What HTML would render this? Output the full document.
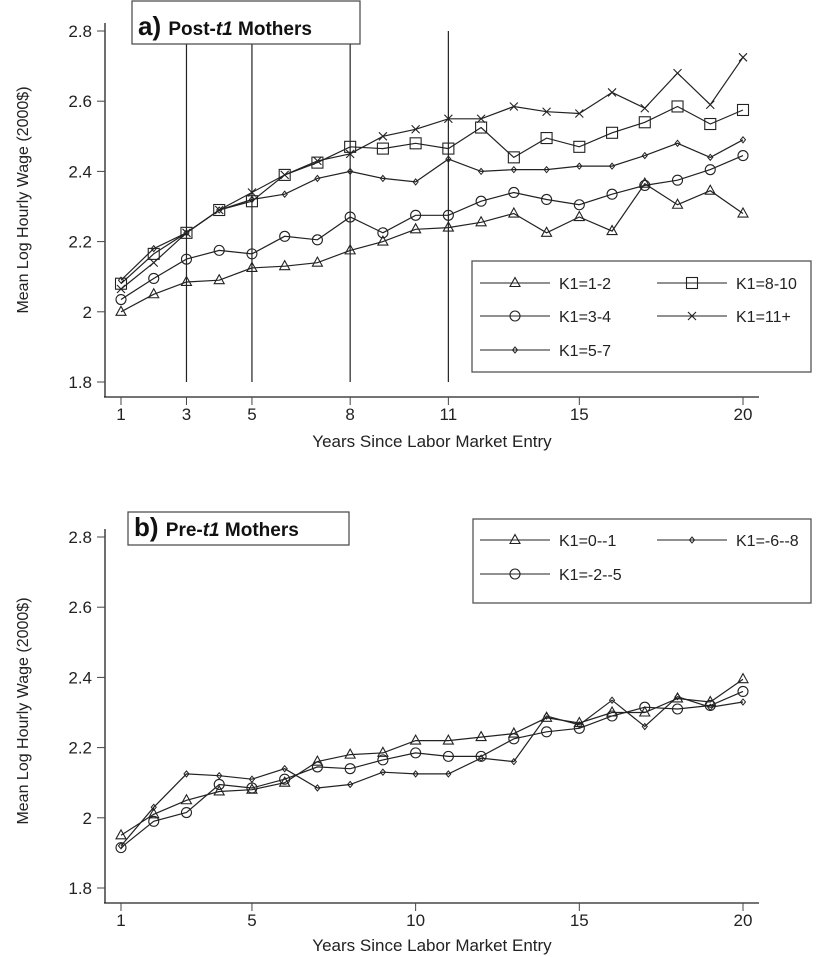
<!DOCTYPE html>
<html><head><meta charset="utf-8"><style>
body{margin:0;background:#fff;}
svg{display:block;font-family:"Liberation Sans",Arial,sans-serif;}
</style></head><body>
<svg id="chart" width="819" height="957" viewBox="0 0 819 957" xmlns="http://www.w3.org/2000/svg"></svg>
<script>
const years = [1,2,3,4,5,6,7,8,9,10,11,12,13,14,15,16,17,18,19,20];
const xTicksA = [1,3,5,8,11,15,20];
const xTicksB = [1,5,10,15,20];
const yTicks = [1.8,2,2.2,2.4,2.6,2.8];
const vLinesA = [3,5,8,11];
const aK12 = [2.00,2.05,2.085,2.09,2.125,2.13,2.14,2.175,2.20,2.235,2.24,2.255,2.28,2.225,2.27,2.23,2.365,2.305,2.345,2.28];
const aK34 = [2.035,2.095,2.15,2.175,2.165,2.215,2.205,2.27,2.225,2.275,2.275,2.315,2.34,2.32,2.305,2.335,2.36,2.375,2.405,2.445];
const aK57 = [2.09,2.18,2.225,2.29,2.32,2.335,2.38,2.40,2.38,2.37,2.435,2.40,2.405,2.405,2.415,2.415,2.445,2.48,2.44,2.49];
const aK810 = [2.08,2.165,2.225,2.29,2.315,2.39,2.425,2.47,2.465,2.48,2.465,2.525,2.44,2.495,2.47,2.51,2.54,2.585,2.535,2.575];
const aK11 = [2.065,2.14,2.225,2.29,2.34,2.39,2.43,2.45,2.50,2.52,2.55,2.55,2.585,2.57,2.565,2.625,2.58,2.68,2.59,2.725];
const bK01 = [1.95,2.01,2.05,2.075,2.08,2.10,2.16,2.18,2.185,2.22,2.22,2.23,2.24,2.285,2.27,2.30,2.30,2.34,2.33,2.395];
const bK25 = [1.915,1.99,2.015,2.095,2.085,2.11,2.145,2.14,2.165,2.185,2.175,2.175,2.225,2.245,2.255,2.29,2.315,2.31,2.32,2.36];
const bK68 = [1.92,2.03,2.125,2.12,2.11,2.14,2.085,2.095,2.13,2.125,2.125,2.17,2.16,2.29,2.265,2.335,2.26,2.345,2.315,2.33];

const NS="http://www.w3.org/2000/svg";
const svg=document.getElementById('chart');
function mk(tag,attrs,parent){const e=document.createElementNS(NS,tag);for(const k in attrs)e.setAttribute(k,attrs[k]);(parent||svg).appendChild(e);return e;}
const xS=v=>121+(v-1)*(743-121)/19;
function yFn(top){return v=>top+(2.8-v)*351/1.0;}

function marker(type,cx,cy,g){
  let e;
  if(type==='tri'){e=mk('path',{d:`M${cx} ${cy-5.5}L${cx+5} ${cy+3.5}L${cx-5} ${cy+3.5}Z`,fill:'none',stroke:'#222','stroke-width':1.1},g);}
  else if(type==='cir'){e=mk('ellipse',{cx:cx,cy:cy,rx:5,ry:5,fill:'none',stroke:'#222','stroke-width':1.1},g);}
  else if(type==='dia'){e=mk('path',{d:`M${cx} ${cy-3}L${cx+2.5} ${cy}L${cx} ${cy+3}L${cx-2.5} ${cy}Z`,fill:'none',stroke:'#222','stroke-width':1},g);}
  else if(type==='sq'){e=mk('rect',{x:cx-5.5,y:cy-5.5,width:11,height:11,fill:'none',stroke:'#222','stroke-width':1.1},g);}
  else {e=mk('path',{d:`M${cx-4} ${cy-4}L${cx+4} ${cy+4}M${cx-4} ${cy+4}L${cx+4} ${cy-4}`,stroke:'#222','stroke-width':1.1},g);}
  
  
}

function series(vals,type,yS,name){
  const g=mk('g',{});
  
  
  const pts=vals.map((v,i)=>xS(years[i]).toFixed(1)+','+yS(v).toFixed(1)).join(' ');
  const l=mk('polyline',{points:pts,fill:'none',stroke:'#222','stroke-width':1.2},g);
  
  
  vals.forEach((v,i)=>marker(type,xS(years[i]),yS(v),g));
}

function axes(yS,bottom,xt,yTitleY,xTitleY,label){
  const g=mk('g',{});
  
  
  mk('line',{x1:105,y1:yS(2.8)-8,x2:105,y2:bottom,stroke:'#222','stroke-width':1.3},g);
  mk('line',{x1:104,y1:bottom,x2:759,y2:bottom,stroke:'#222','stroke-width':1.3},g);
  yTicks.forEach(t=>{
    mk('line',{x1:97,y1:yS(t),x2:105,y2:yS(t),stroke:'#444','stroke-width':1},g);
    const tx=mk('text',{x:92,y:yS(t)+6,'text-anchor':'end','font-size':17,fill:'#222'},g);
    tx.textContent=(t===2?'2':t.toFixed(1));
    
    
  });
  xt.forEach(t=>{
    mk('line',{x1:xS(t),y1:bottom,x2:xS(t),y2:bottom+8,stroke:'#444','stroke-width':1},g);
    const tx=mk('text',{x:xS(t),y:bottom+23,'text-anchor':'middle','font-size':17,fill:'#222'},g);
    tx.textContent=t;
    
    
  });
  const yt=mk('text',{x:0,y:0,transform:`translate(28,${yTitleY}) rotate(-90)`,'text-anchor':'middle','font-size':16,fill:'#222'},g);
  yt.textContent='Mean Log Hourly Wage (2000$)';
  
  
  const xtt=mk('text',{x:432,y:xTitleY,'text-anchor':'middle','font-size':17,fill:'#222'},g);
  xtt.textContent='Years Since Labor Market Entry';
  
  
}

function legend(x,y,w,h,items){
  const g=mk('g',{});
  
  
  mk('rect',{x:x,y:y,width:w,height:h,fill:'#fff',stroke:'#555','stroke-width':1.3},g);
  items.forEach(it=>{
    const eg=mk('g',{},g);
    
    
    mk('line',{x1:it[0],y1:it[1],x2:it[0]+70,y2:it[1],stroke:'#222','stroke-width':1.1},eg);
    marker(it[3],it[0]+35,it[1],eg);
    const t=mk('text',{x:it[0]+79,y:it[1]+6,'font-size':16,fill:'#222'},eg);
    t.textContent=it[2];
  });
}

function title(x,y,w,h,letter,pre,post,name){
  const g=mk('g',{});
  
  
  mk('rect',{x:x,y:y,width:w,height:h,fill:'#fff',stroke:'#444','stroke-width':1.2},g);
  const t=mk('text',{x:x+6,y:y+h-9,'font-size':19,'font-weight':'bold',fill:'#111'},g);
  const a=mk('tspan',{'font-size':26},t);a.textContent=letter+' ';
  const b=mk('tspan',{},t);b.textContent=pre;
  const c=mk('tspan',{'font-style':'italic'},t);c.textContent='t1';
  const d=mk('tspan',{},t);d.textContent=post;
}

// Panel A
const yA=yFn(31);
axes(yA,397,xTicksA,200,447,'panel-a');
vLinesA.forEach(v=>{
  const l=mk('line',{x1:xS(v),y1:31,x2:xS(v),y2:382,stroke:'#222','stroke-width':1.2});
  
  
});
series(aK12,'tri',yA,'series-k1-1-2');
series(aK34,'cir',yA,'series-k1-3-4');
series(aK57,'dia',yA,'series-k1-5-7');
series(aK810,'sq',yA,'series-k1-8-10');
series(aK11,'x',yA,'series-k1-11-plus');
legend(472,261,339,111,[[480,283,'K1=1-2','tri'],[657,283,'K1=8-10','sq'],[480,316,'K1=3-4','cir'],[657,316,'K1=11+','x'],[480,350,'K1=5-7','dia']]);
title(132,1,228,43,'a)','Post-',' Mothers','panel-a-title');

// Panel B
const yB=yFn(537);
axes(yB,903,xTicksB,711,951,'panel-b');
series(bK01,'tri',yB,'series-k1-0-1');
series(bK25,'cir',yB,'series-k1-2-5');
series(bK68,'dia',yB,'series-k1-6-8');
legend(473,519,338,84,[[480,540,'K1=0--1','tri'],[657,540,'K1=-6--8','dia'],[480,574,'K1=-2--5','cir']]);
title(128,512,221,33,'b)','Pre-',' Mothers','panel-b-title');
</script>
</body></html>
